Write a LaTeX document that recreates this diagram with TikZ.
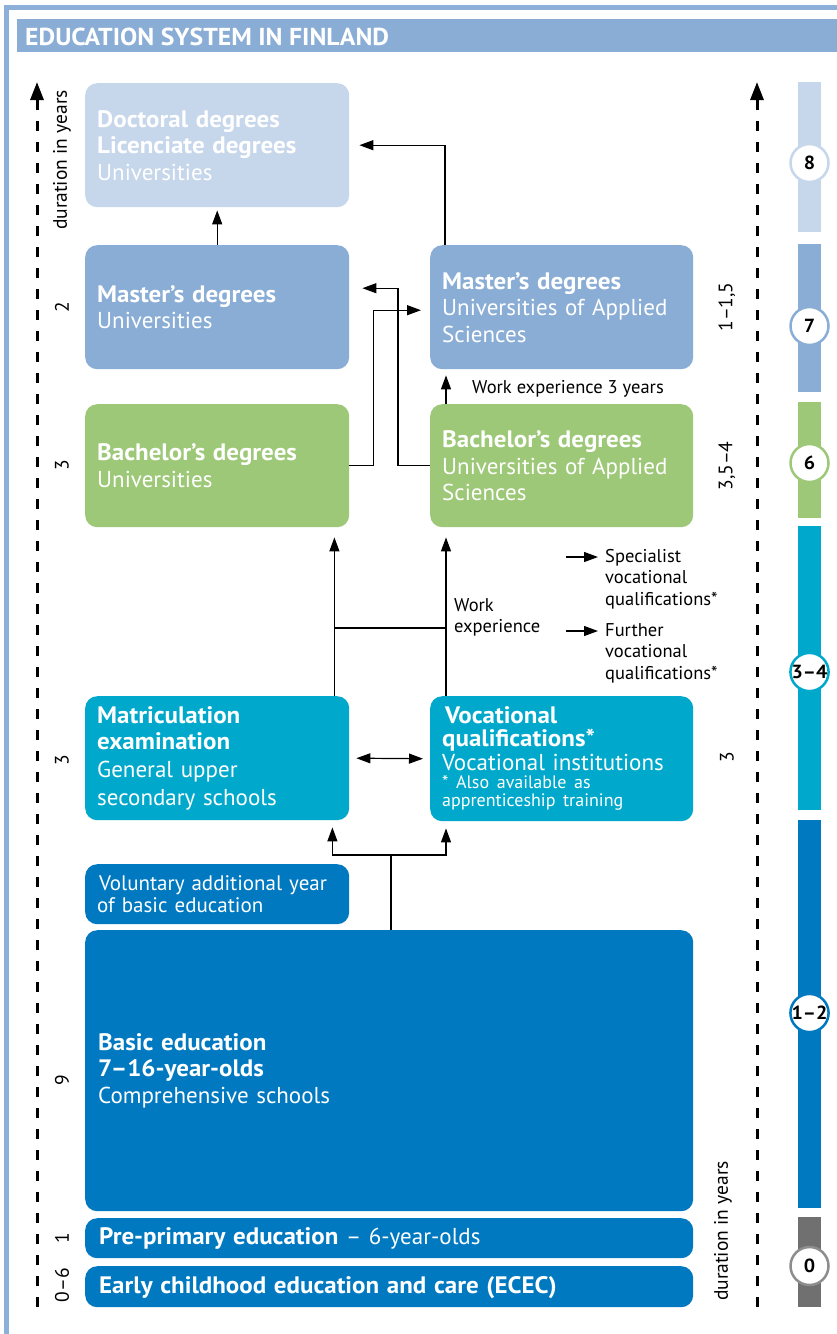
\documentclass[tikz,border=0pt]{standalone}
\usepackage{fontspec}
\setmainfont{PT Sans}[BoldFeatures={FakeStretch=1.05}]
\usetikzlibrary{arrows.meta,calc}
\setlength{\parindent}{0pt}
\definecolor{frameblue}{HTML}{8DB0D8}
\definecolor{lightblue}{HTML}{C6D6EB}
\definecolor{midblue}{HTML}{8AADD5}
\definecolor{greenA}{HTML}{9DC877}
\definecolor{tealA}{HTML}{00A9CB}
\definecolor{darkA}{HTML}{0079C1}
\definecolor{grayA}{HTML}{707070}
\newcommand\fsz[2]{\fontsize{#1}{#2}\selectfont}
\newcommand\bt[1]{{\bfseries\fsz{23.8}{26.5}#1}}
\begin{document}
\begin{tikzpicture}[x=1pt,y=-1pt,
  box/.style={rounded corners=12pt, inner xsep=12pt, inner ysep=0pt, anchor=north west, align=left, text=white, font=\fsz{23}{26.5}},
  sbox/.style={box, minimum width=264pt, text width=240pt, minimum height=124pt},
  rbox/.style={box, minimum width=263pt, text width=239pt, minimum height=124pt},
  wbox/.style={box, inner xsep=13pt, minimum width=608pt, text width=582pt},
  conn/.style={-{Triangle[length=14pt,width=10pt]}, line width=1.2pt},
  dconn/.style={{Triangle[length=14pt,width=10pt]}-{Triangle[length=14pt,width=10pt]}, line width=1.2pt},
  plainline/.style={line width=1.2pt},
  dashaxis/.style={line width=3pt, dash pattern=on 10pt off 11pt, -{Triangle[length=18pt,width=13pt]}},
  small/.style={font=\fsz{18.5}{21.5}, align=left, inner sep=0pt},
  axlab/.style={rotate=90, font=\fsz{19.5}{21}, inner sep=0pt},
  num/.style={circle, draw, fill=white, line width=2.5pt, minimum size=38pt, inner sep=0pt, font=\bfseries\fsz{19}{20}}
]
\fill[white] (0,0) rectangle (837,1334);
\useasboundingbox (0,0) rectangle (837,1334);
% frame and header
\draw[frameblue, line width=5pt] (6.5,1334) -- (6.5,7.5) -- (837,7.5);
\fill[midblue] (17,19) rectangle (837,52);
\node[anchor=west, text=white, font=\bfseries\fsz{24.5}{26}, inner sep=0pt] (title) at (25,36.5) {EDUCATION SYSTEM IN FINLAND};

% boxes
\node[sbox, fill=lightblue] (doc) at (85,83) {\bt{Doctoral degrees\\Licenciate degrees}\\Universities};
\node[sbox, fill=midblue] (mu) at (85,245) {\bt{Master’s degrees}\\Universities};
\node[rbox, fill=midblue] (mast) at (430,245) {\bt{Master’s degrees}\\Universities of Applied\\Sciences};
\node[sbox, fill=greenA, minimum height=123pt] (bu) at (85,404) {\bt{Bachelor’s degrees}\\Universities};
\node[rbox, fill=greenA, minimum height=123pt] (bua) at (430,404) {\bt{Bachelor’s degrees}\\Universities of Applied\\Sciences};
\node[sbox, fill=tealA] (mat) at (85,696) {{\bfseries\fsz{23.8}{26}Matriculation\\examination\par}{\fsz{23}{28}General upper\\secondary schools\par}};
\node[rbox, fill=tealA, minimum height=125pt] (voc) at (430,696) {{\bfseries\fsz{23.8}{23}\hspace{3pt}Vocational\\qualifications*\par}{\fsz{23}{24}Vocational institutions\par}{\fsz{18}{18}* Also available as\\apprenticeship training\par}};
\node[sbox, fill=darkA, minimum height=60pt, font=\fsz{21}{22}] (vol) at (85,864) {\hspace{2pt}Voluntary additional year\\of basic education};
\node[wbox, fill=darkA, minimum height=281pt] (be) at (85,930) {\bt{Basic education\\7–16-year-olds}\\Comprehensive schools};
\node[wbox, fill=darkA, minimum height=40pt, inner xsep=14pt, text width=580pt, text depth=4pt] (pre) at (85,1218) {\bt{Pre-primary education} – 6-year-olds};
\node[wbox, fill=darkA, minimum height=41pt, inner xsep=14pt, text width=580pt, text depth=4pt] (ecec) at (85,1266) {\bt{Early childhood education and care (ECEC)}};

% connectors
\draw[conn] ($(mast.north west)+(15,0)$) |- ($(doc.east)+(10,0)$);
\draw[conn] (mu.north) -- ($(doc.south)+(0,3)$);
\draw[conn] (bu.east) -- ++(24,0) |- ($(mast.west)+(-9,3)$);
\draw[conn] (bua.west) -- ++(-32,0) |- ($(mu.east)+(13,-19)$);
\draw[conn] ($(bua.north west)+(16,0)$) -- ($(mast.south west)+(16,6)$);
\node[small, anchor=base west] (we3) at (472,393) {Work experience 3 years};
\draw[conn] ($(mat.north east)+(-15,0)$) -- ($(bu.south east)+(-15,10)$);
\draw[conn] ($(voc.north west)+(16,0)$) -- ($(bua.south west)+(16,10)$);
\draw[plainline] ($(mat.north east)+(-15,-68)$) -- ($(voc.north west)+(16,-68)$);
\node[small, anchor=north west] (wexp) at (454,598) {Work\\experience};
\node[small, anchor=north west] (spec) at (605,549) {Specialist\\vocational\\qualifications*};
\node[small, anchor=north west] (furt) at (605,623) {Further\\vocational\\qualifications*};
\coordinate (sa) at (566,557);
\coordinate (fa) at (566,631);
\draw[conn] (sa) -- ($(spec.north west)+(-7,8)$);
\draw[conn] (fa) -- ($(furt.north west)+(-7,8)$);
\draw[dconn] ($(mat.east)+(7,0)$) -- ($(voc.west)+(-7,0)$);
\coordinate (jn) at ($(be.north west)+(306,-75)$);
\draw[plainline] ($(be.north west)+(306,0)$) -- (jn);
\draw[conn] (jn) -| ($(mat.south east)+(-17,7)$);
\draw[conn] (jn) -| ($(voc.south west)+(16,7)$);

% axes
\coordinate (lb) at (37,1307);
\coordinate (lt) at (37,82);
\coordinate (rb) at (757,1307);
\coordinate (rt) at (757,82);
\draw[dashaxis] (lb) -- (lt);
\draw[dashaxis] (rb) -- (rt);
\node[axlab] (ldur) at (62,160) {duration in years};
\node[axlab] (l2) at (62,307) {2};
\node[axlab] (l3a) at (62,465) {3};
\node[axlab] (l3b) at (62,760) {3};
\node[axlab] (l9) at (62,1080) {9};
\node[axlab] (l1) at (62,1238) {1};
\node[axlab] (l06) at (62,1285) {0–6};
\node[axlab] (r115) at (727,307) {1–1,5};
\node[axlab] (r354) at (727,466) {3,5–4};
\node[axlab] (r3) at (727,757) {3};
\node[axlab] (rdur) at (723,1231) {duration in years};

% right bar
\fill[lightblue] (798,82) rectangle (821,232);
\fill[midblue] (798,244) rectangle (821,392);
\fill[greenA] (798,402) rectangle (821,518);
\fill[tealA] (798,526) rectangle (821,810);
\fill[darkA] (798,820) rectangle (821,1208);
\fill[grayA] (798,1217) rectangle (821,1307);
\node[num, draw=lightblue] (c8) at (809.5,163) {8};
\node[num, draw=midblue] (c7) at (809.5,326) {7};
\node[num, draw=greenA] (c6) at (809.5,463) {6};
\node[num, draw=tealA] (c34) at (809.5,672) {3–4};
\node[num, draw=darkA] (c12) at (809.5,1013) {1–2};
\node[num, draw=grayA!80] (c0) at (809.5,1266) {0};
\end{tikzpicture}
\end{document}
